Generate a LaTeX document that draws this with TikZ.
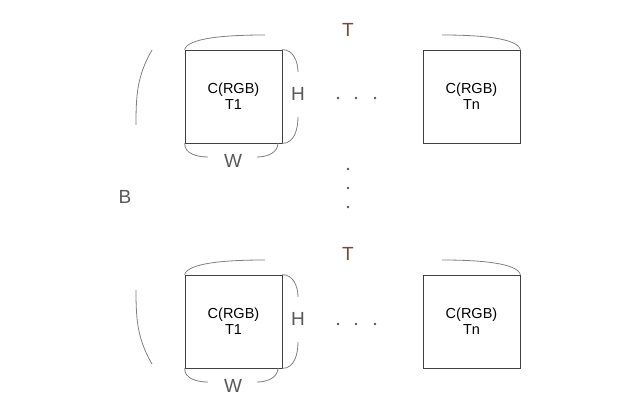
\documentclass[tikz,border=0pt]{standalone}
\usepackage{fontspec}
\setmainfont{Liberation Sans}
\definecolor{labelgray}{RGB}{89,89,89}
\definecolor{tbrown}{RGB}{125,70,55}
\definecolor{dotblue}{RGB}{75,85,100}
\definecolor{linegray}{RGB}{128,128,128}
\begin{document}
\begin{tikzpicture}[x=1pt,y=-1pt]
\tikzstyle{every node}=[inner sep=0pt]
\tikzstyle{frame}=[draw=black!75, line width=0.8pt, minimum width=97pt, minimum height=93pt, align=center, font=\fontsize{14.5}{16}\selectfont]
\tikzstyle{brace}=[draw=linegray, line width=0.8pt]
\tikzstyle{lbl}=[text=labelgray, font=\fontsize{19}{21}\selectfont]
\tikzstyle{dot}=[circle, fill=dotblue, minimum size=2.6pt]
\useasboundingbox (0,0) rectangle (641,403);
% upper row
\node (b1) [frame] at (233.5,96.5) {C(RGB)\\T1};
\node (b2) [frame] at (471.5,96.5) {C(RGB)\\Tn};
\node (t1) [lbl, text=tbrown] at (348,30) {T};
\node (h1) [lbl] at (298,94) {H};
\node (w1) [lbl] at (233,161) {W};
\coordinate (t1l) at (265,35);
\coordinate (t1r) at (442,35);
\coordinate (h1a) at (298,72);
\coordinate (h1b) at (298,117);
\coordinate (w1a) at (208,157);
\coordinate (w1b) at (257,157);
\coordinate (w1c) at (278,143);
\draw [brace] (b1.north west) .. controls (188,38) and (225,35) .. (t1l);
\draw [brace] (t1r) .. controls (480,35) and (517,38) .. (b2.north east);
\draw [brace] (b1.north east) to[out=0,in=90] (h1a);
\draw [brace] (h1b) to[out=-90,in=0] (b1.south east);
\draw [brace] (b1.south west) to[out=-90,in=180] (w1a);
\draw [brace] (w1b) to[out=0,in=-90] (w1c);
\node (d1) [dot] at (338,98) {};
\node (d2) [dot] at (356,98) {};
\node (d3) [dot] at (375,98) {};
% middle
\node (d4) [dot] at (348,169) {};
\node (d5) [dot] at (348,188) {};
\node (d6) [dot] at (348,207) {};
\node (bl) [lbl] at (125,197) {B};
\coordinate (ba) at (152,50);
\coordinate (bb) at (136,125);
\coordinate (bc) at (136,290);
\coordinate (bd) at (152,364);
\draw [brace] (ba) to[out=-120,in=90] (bb);
\draw [brace] (bc) to[out=-90,in=120] (bd);
% lower row
\node (b3) [frame] at (233.5,321.5) {C(RGB)\\T1};
\node (b4) [frame] at (471.5,321.5) {C(RGB)\\Tn};
\node (t2) [lbl, text=tbrown] at (348,254) {T};
\node (h2) [lbl] at (298,319) {H};
\node (w2) [lbl] at (233,386) {W};
\coordinate (t2l) at (265,260);
\coordinate (t2r) at (442,260);
\coordinate (h2a) at (298,297);
\coordinate (h2b) at (298,342);
\coordinate (w2a) at (208,382);
\coordinate (w2b) at (257,382);
\coordinate (w2c) at (278,368);
\draw [brace] (b3.north west) .. controls (188,263) and (225,260) .. (t2l);
\draw [brace] (t2r) .. controls (480,260) and (517,263) .. (b4.north east);
\draw [brace] (b3.north east) to[out=0,in=90] (h2a);
\draw [brace] (h2b) to[out=-90,in=0] (b3.south east);
\draw [brace] (b3.south west) to[out=-90,in=180] (w2a);
\draw [brace] (w2b) to[out=0,in=-90] (w2c);
\node (d7) [dot] at (338,324) {};
\node (d8) [dot] at (356,324) {};
\node (d9) [dot] at (375,324) {};
\end{tikzpicture}
\end{document}
